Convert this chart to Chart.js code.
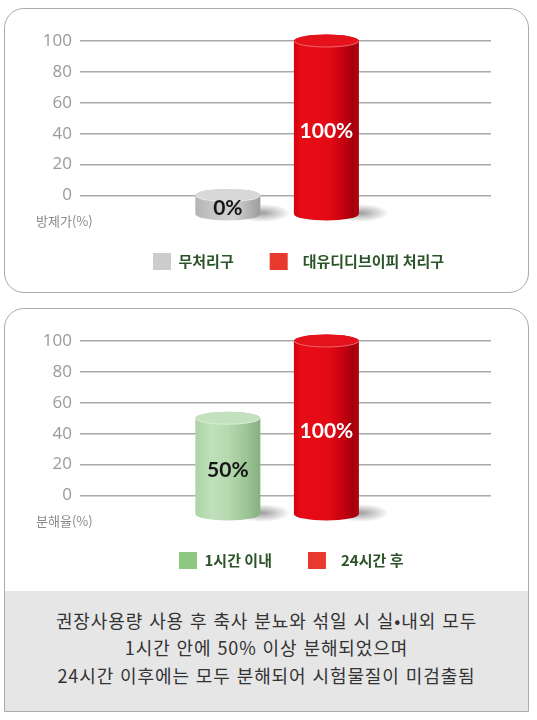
<!DOCTYPE html>
<html lang="ko">
<head>
<meta charset="utf-8">
<title>방제가 / 분해율</title>
<script src="https://cdn.jsdelivr.net/npm/chart.js@4.4.1/dist/chart.umd.min.js"></script>
<style>
  body { margin: 0; background: #fff; }
  #page { position: relative; width: 537px; height: 720px; overflow: hidden; }
  .panel { position: absolute; left: 4px; width: 525px; box-sizing: border-box; border: 1.5px solid #aaa; }
  #panel1 { top: 8px; height: 285px; border-radius: 20px; }
  #panel2 { top: 308px; height: 404px; border-radius: 20px 20px 0 0; overflow: hidden; }
  .chart-box { position: absolute; left: 0; width: 537px; height: 300px; }
  #note {
    position: absolute; left: 0; right: 0; top: 281.5px; bottom: 0;
    box-sizing: border-box; padding-bottom: 6px;
    background: #e6e6e6;
    display: flex; flex-direction: column; justify-content: center; align-items: center;
    font-family: 'Noto Sans CJK KR', sans-serif; font-size: 18px; color: #333;
    letter-spacing: 0.9px;
    line-height: 27.5px;
  }
</style>
</head>
<body>
<div id="page">
  <div class="panel" id="panel1"></div>
  <div class="panel" id="panel2"><div id="note"></div></div>
  <div class="chart-box" style="top:0"><canvas id="chart1"></canvas></div>
  <div class="chart-box" style="top:300px"><canvas id="chart2"></canvas></div>
</div>
<script>
// Data
const controlCategories = ['무처리구', '대유디디브이피 처리구'];
const controlValues = [0, 100];

const decompCategories = ['1시간 이내', '24시간 후'];
const decompValues = [50, 100];

const yTickValues = [0, 20, 40, 60, 80, 100];
const yTitles = ['방제가(%)', '분해율(%)'];

const noteLines = [
  '권장사용량 사용 후 축사 분뇨와 섞일 시 실•내외 모두',
  '1시간 안에 50% 이상 분해되었으며',
  '24시간 이후에는 모두 분해되어 시험물질이 미검출됨'
];

// cylinder looks (style only)
const looks = {
  gray: {
    legend: '#cccccc',
    body: [[0, '#b4b4b4'], [0.3, '#c8c8c8'], [0.6, '#d2d2d2'], [0.85, '#b0b0b0'], [1, '#9c9c9c']],
    top: '#d8d8d8', text: '#161616'
  },
  red: {
    legend: '#e8392e',
    body: [[0, '#d4000c'], [0.12, '#e60d17'], [0.55, '#e30a15'], [0.78, '#c10010'], [0.9, '#a4000c'], [1, '#b2000e']],
    top: '#e5121c', text: '#ffffff'
  },
  green: {
    legend: '#8dc782',
    body: [[0, '#add3a7'], [0.25, '#c0e0bb'], [0.5, '#b6d9b0'], [0.78, '#9dc597'], [1, '#86b081']],
    top: '#c4e1bf', text: '#161616'
  }
};

const FLOOR = -12;

// move the legend to where it sits in the picture
const legendPlace = {
  id: 'legendPlace',
  afterLayout(chart, args, opts) {
    const lg = chart.legend;
    if (!lg || opts.x == null) return;
    const pad = lg.options.labels.padding;
    const dx = opts.x - (lg.left + pad);
    const dy = opts.y - (lg.top + pad);
    lg.left += dx; lg.right += dx;
    lg.top += dy; lg.bottom += dy;
  }
};

// draw bars as cylinders
const cylinders = {
  id: 'cylinders',
  beforeDatasetDraw() { return false; },
  afterDatasetsDraw(chart, args, opts) {
    const ctx = chart.ctx;
    const meta = chart.getDatasetMeta(0);
    const values = chart.data.datasets[0].data;
    meta.data.forEach((bar, i) => {
      const {x, y, base, width} = bar.getProps(['x', 'y', 'base', 'width'], true);
      const look = opts.looks[i];
      const left = x - width / 2, right = x + width / 2;
      const rx = width / 2, ry = 6.5;

      // shadow on the floor
      ctx.save();
      ctx.translate(right + 2, base - 1);
      ctx.scale(1, 0.32);
      const sg = ctx.createRadialGradient(0, 0, 0, 0, 0, 28);
      sg.addColorStop(0, 'rgba(0,0,0,0.38)');
      sg.addColorStop(1, 'rgba(0,0,0,0)');
      ctx.fillStyle = sg;
      ctx.beginPath();
      ctx.arc(0, 0, 28, 0, Math.PI * 2);
      ctx.fill();
      ctx.restore();

      // body
      const g = ctx.createLinearGradient(left, 0, right, 0);
      look.body.forEach(([s, c]) => g.addColorStop(s, c));
      ctx.save();
      ctx.fillStyle = g;
      ctx.beginPath();
      ctx.moveTo(left, y);
      ctx.lineTo(left, base);
      ctx.ellipse(x, base, rx, ry, 0, Math.PI, 0, true);
      ctx.lineTo(right, y);
      ctx.ellipse(x, y, rx, ry, 0, 0, Math.PI, true);
      ctx.closePath();
      ctx.fill();

      // top
      ctx.fillStyle = look.top;
      ctx.beginPath();
      ctx.ellipse(x, y, rx, ry, 0, 0, Math.PI * 2);
      ctx.fill();
      ctx.strokeStyle = 'rgba(255,255,255,0.35)';
      ctx.lineWidth = 1;
      ctx.beginPath();
      ctx.ellipse(x, y, rx - 0.5, ry - 0.5, 0, 0, Math.PI);
      ctx.stroke();

      // value label
      ctx.fillStyle = look.text;
      ctx.font = "bold 21px Lato, sans-serif";
      ctx.textAlign = 'center';
      ctx.textBaseline = 'middle';
      ctx.fillText(values[i].y + '%', x, (y + base) / 2 + 4);
      ctx.restore();
    });
  }
};

// small unit note under the y axis
const axisNote = {
  id: 'axisNote',
  afterDraw(chart, args, opts) {
    const ctx = chart.ctx;
    const yScale = chart.scales.y;
    ctx.save();
    ctx.fillStyle = '#8a8a8a';
    ctx.font = "13px 'Noto Sans CJK KR', sans-serif";
    ctx.textAlign = 'left';
    ctx.textBaseline = 'middle';
    ctx.fillText(opts.text, opts.x, yScale.bottom + 7);
    ctx.restore();
  }
};

function makeChart(id, categories, values, lookList, yTitle, legendAt) {
  const colors = lookList.map(l => l.legend);
  return new Chart(document.getElementById(id), {
    type: 'bar',
    data: {
      datasets: [{
        data: values.map((v, i) => ({ x: i, y: v })),
        backgroundColor: colors,
        base: FLOOR,
        barThickness: 65
      }]
    },
    options: {
      responsive: true,
      maintainAspectRatio: false,
      animation: false,
      layout: { padding: { left: 0, right: 46, top: 41, bottom: 23 } },
      scales: {
        x: { type: 'linear', min: -1.5, max: 2.67, offset: false, display: false },
        y: {
          min: FLOOR,
          max: 100,
          afterBuildTicks: (axis) => { axis.ticks = yTickValues.map(v => ({ value: v })); },
          afterFit: (axis) => { axis.width = 80; },
          border: { display: false },
          grid: { color: '#a9a9a9', lineWidth: 1.5, drawTicks: false },
          ticks: {
            padding: 8,
            color: '#9a9a9a',
            font: { family: "'Open Sans', sans-serif", size: 17 }
          }
        }
      },
      plugins: {
        tooltip: { enabled: false },
        legend: {
          position: 'bottom',
          align: 'start',
          labels: {
            boxWidth: 18,
            boxHeight: 17,
            padding: 36,
            color: '#2c5429',
            font: { family: "'Noto Sans CJK KR', sans-serif", size: 15, weight: 'bold' },
            generateLabels: () => categories.map((c, i) => ({
              text: (i ? '\u2002' : '') + c,
              fillStyle: colors[i],
              strokeStyle: colors[i],
              lineWidth: 0,
              fontColor: '#2c5429',
              hidden: false,
              index: i
            }))
          }
        },
        legendPlace: legendAt,
        cylinders: { looks: lookList },
        axisNote: { text: yTitle, x: 36 }
      }
    },
    plugins: [legendPlace, cylinders, axisNote]
  });
}

document.getElementById('note').innerHTML = noteLines.map(t => '<div>' + t + '</div>').join('');

makeChart('chart1', controlCategories, controlValues, [looks.gray, looks.red], yTitles[0], { x: 153, y: 253 });
makeChart('chart2', decompCategories, decompValues, [looks.green, looks.red], yTitles[1], { x: 179, y: 252 });
</script>
</body>
</html>
